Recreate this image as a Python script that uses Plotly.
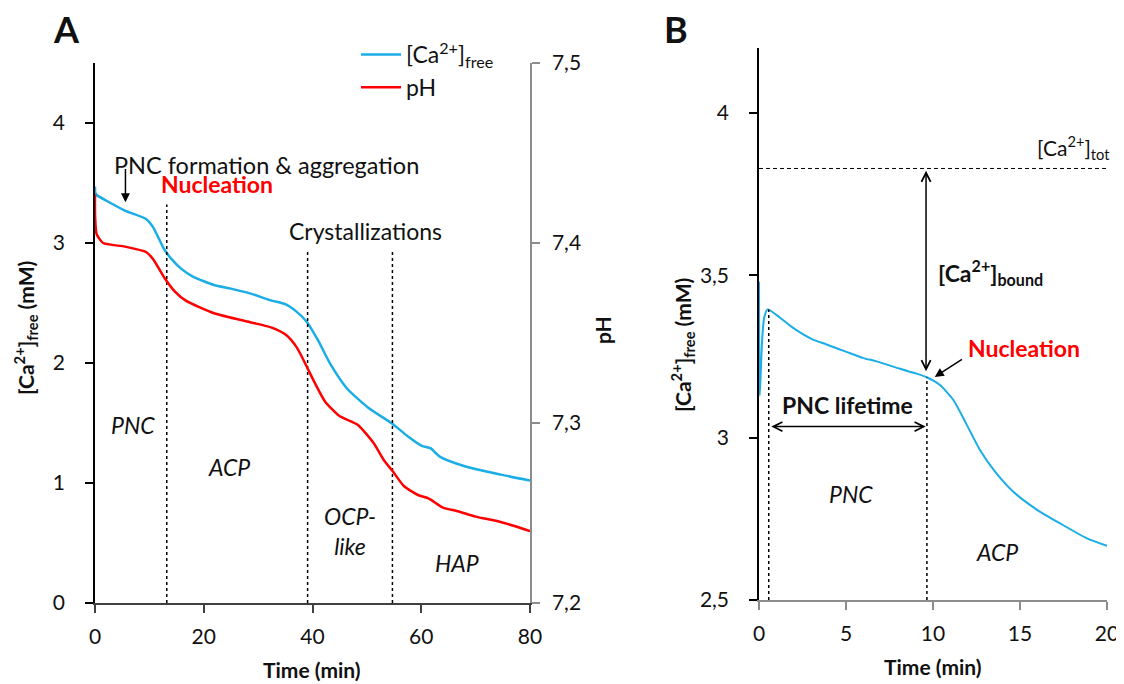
import plotly.graph_objects as go

# The page puts the figure 8 px from the window's top-left corner,
# so the figure is 8 px smaller than the 1124x684 window on each axis.
OFF = 8
W, H = 1124 - OFF, 684 - OFF
FONT = "Lato"

# ---------------- Panel A data ----------------
time_ca_A = [0, 0.05, 0.3, 2.2, 5.5, 9.4, 10.7, 12.7, 14.0, 16, 18, 21.9, 25, 28.5, 32.5,
             35, 37, 39.0, 41, 43.3, 46.3, 50.2, 54.8, 57.5, 60.1, 61.7, 63.4, 68, 74.6, 80]
ca_free_A = [3.47, 3.42, 3.40, 3.35, 3.27, 3.20, 3.13, 2.95, 2.87, 2.78, 2.72, 2.65, 2.62, 2.58, 2.52,
             2.49, 2.43, 2.34, 2.19, 1.99, 1.79, 1.63, 1.49, 1.39, 1.31, 1.29, 1.22, 1.14, 1.07, 1.02]

time_ph_A = [0, 0.02, 0.3, 1.5, 5.5, 9.4, 10.7, 12.7, 14.7, 16.7, 21.9, 28.5, 32.5, 35.1, 37.1,
             39.0, 40.3, 42.3, 44.9, 48.3, 51.2, 53.2, 54.8, 56.8, 59.4, 61.4, 64.0, 66.7, 70, 74.6, 80]
ph_A = [7.427, 7.415, 7.405, 7.400, 7.398, 7.395, 7.391, 7.381, 7.373, 7.368, 7.361, 7.356, 7.353, 7.349, 7.342,
        7.331, 7.323, 7.312, 7.304, 7.299, 7.289, 7.279, 7.273, 7.265, 7.260, 7.258, 7.253, 7.251, 7.248, 7.245, 7.240]

phase_lines_A = [13.2, 39.1, 54.7]      # min
phase_tops_A = [3.32, 2.94, 2.93]       # mM

# ---------------- Panel B data ----------------
time_B = [0, 0.04, 0.1, 0.18, 0.3, 0.5, 1.0, 1.96, 3.1, 3.88, 5.03, 6.0, 6.76, 8.1, 9.0, 9.64,
          10.4, 11.17, 11.9, 12.7, 13.5, 14.6, 16.0, 17.3, 18.85, 20]
ca_free_B = [3.48, 3.13, 3.20, 3.30, 3.37, 3.395, 3.378, 3.338, 3.302, 3.287, 3.264, 3.245, 3.235, 3.212, 3.198, 3.186,
             3.162, 3.116, 3.044, 2.962, 2.90, 2.834, 2.777, 2.736, 2.69, 2.667]
ca_tot_B = 3.829
phase_lines_B = [0.56, 9.65]
phase_tops_B = [3.395, 3.185]

BLUE = "#1AADE6"
RED = "#FF0000"


def px(x):
    return (x - OFF) / W


def py(y):
    return 1 - (y - OFF) / H


fig = go.Figure()

fig.add_trace(go.Scatter(x=time_ca_A, y=ca_free_A, mode="lines", name="[Ca<sup>2+</sup>]<sub>free</sub>",
                         line=dict(color=BLUE, width=2.5, shape="spline", smoothing=0.6), xaxis="x", yaxis="y"))
fig.add_trace(go.Scatter(x=time_ph_A, y=ph_A, mode="lines", name="pH",
                         line=dict(color=RED, width=2.5, shape="spline", smoothing=0.6), xaxis="x", yaxis="y2"))
for t, top in zip(phase_lines_A, phase_tops_A):
    fig.add_trace(go.Scatter(x=[t, t], y=[0, top], mode="lines", showlegend=False,
                             line=dict(color="black", width=1.5, dash="dot"), xaxis="x", yaxis="y"))

fig.add_trace(go.Scatter(x=time_B, y=ca_free_B, mode="lines", showlegend=False,
                         line=dict(color=BLUE, width=2, shape="spline", smoothing=0.6), xaxis="x2", yaxis="y3"))
for t, top in zip(phase_lines_B, phase_tops_B):
    fig.add_trace(go.Scatter(x=[t, t], y=[2.5, top], mode="lines", showlegend=False,
                             line=dict(color="black", width=1.5, dash="dot"), xaxis="x2", yaxis="y3"))
fig.add_trace(go.Scatter(x=[0, 20], y=[ca_tot_B, ca_tot_B], mode="lines", showlegend=False,
                         line=dict(color="black", width=1, dash="4px,3px"), xaxis="x2", yaxis="y3"))

tickfont = dict(family=FONT, size=21, color="#111")
common = dict(showgrid=False, zeroline=False, ticks="outside", ticklen=8, tickwidth=1.5,
              tickfont=tickfont, showline=True, linewidth=1.5, fixedrange=True, automargin=False,
              ticklabeloverflow="allow")

fig.update_layout(
    width=W, height=H, margin=dict(l=0, r=0, t=0, b=0, autoexpand=False),
    paper_bgcolor="white", plot_bgcolor="white",
    separators=", ",
    font=dict(family=FONT, size=20, color="#111"),
    xaxis=dict(domain=[px(95), px(530)], range=[0, 80], dtick=20, anchor="y",
               linecolor="#404040", tickcolor="#404040", ticklabelstandoff=6, **common),
    yaxis=dict(domain=[py(603), py(63)], range=[0, 4.5], tickvals=[0, 1, 2, 3, 4], anchor="x",
               linecolor="black", tickcolor="black", ticklabelstandoff=16, **common),
    yaxis2=dict(domain=[py(603), py(63)], range=[7.2, 7.5], tickvals=[7.2, 7.3, 7.4, 7.5], tickformat=".1f",
                overlaying="y", side="right", anchor="x",
                linecolor="#8c8c8c", tickcolor="#8c8c8c", ticklabelstandoff=8, **common),
    xaxis2=dict(domain=[px(759), px(1107)], range=[0, 20], dtick=5, anchor="y3",
                linecolor="#8c8c8c", tickcolor="#8c8c8c", ticklabelstandoff=6, **common),
    yaxis3=dict(domain=[py(600), py(48)], range=[2.5, 4.2], tickvals=[2.5, 3, 3.5, 4], anchor="x2",
                linecolor="black", tickcolor="black", ticklabelstandoff=16, **common),
    legend=dict(x=px(356), y=py(33), xanchor="left", yanchor="top", bgcolor="rgba(0,0,0,0)",
                font=dict(family=FONT, size=23, color="#111"), tracegroupgap=0, itemwidth=40),
    showlegend=True,
)

ann = []


def text(x, y, s, xref="x", yref="y", size=23, color="#111", bold=False, italic=False,
         xanchor="center", yanchor="middle", **kw):
    if bold:
        s = "<b>" + s + "</b>"
    if italic:
        s = "<i>" + s + "</i>"
    ann.append(dict(x=x, y=y, xref=xref, yref=yref, text=s, showarrow=False,
                    xanchor=xanchor, yanchor=yanchor,
                    font=dict(family=FONT, size=size, color=color), **kw))


def arrow(x0, y0, x1, y1, xref, yref, head=2, double=False, width=1.5):
    d = dict(x=x1, y=y1, ax=x0, ay=y0, xref=xref, yref=yref, axref=xref, ayref=yref,
             text="", showarrow=True, arrowhead=head, arrowsize=1.2, arrowwidth=width, arrowcolor="black")
    if double:
        d.update(arrowside="end+start", startarrowhead=head, startarrowsize=1.2)
    ann.append(d)


# Panel letters
text(px(66), py(29), "A", "paper", "paper", size=36, bold=True)
text(px(676), py(29), "B", "paper", "paper", size=36, bold=True)

# Axis titles
text(px(312), py(669), "Time (min)", "paper", "paper", size=21, bold=True)
text(px(933), py(666), "Time (min)", "paper", "paper", size=21, bold=True)
text(px(25), py(328), "[Ca<sup>2+</sup>]<sub>free</sub> (mM)", "paper", "paper", size=21, bold=True, textangle=-90)
text(px(602), py(330), "pH", "paper", "paper", size=21, bold=True, textangle=-90)
text(px(683), py(345), "[Ca<sup>2+</sup>]<sub>free</sub> (mM)", "paper", "paper", size=21, bold=True, textangle=-90)

# Panel A annotations
text(3.2, 3.65, "PNC formation &amp; aggregation", xanchor="left", size=23.5)
arrow(5.6, 3.63, 5.6, 3.34, "x", "y", head=2)
text(22.4, 3.49, "Nucleation", color=RED, bold=True)
text(49.7, 3.10, "Crystallizations")
text(6.9, 1.48, "PNC", italic=True)
text(24.6, 1.13, "ACP", italic=True)
text(46.9, 0.60, "OCP-<br>like", italic=True)
text(66.6, 0.33, "HAP", italic=True)

# Panel B annotations
text(px(1112), py(148), "[Ca<sup>2+</sup>]<sub>tot</sub>", "paper", "paper", size=21, xanchor="right")
arrow(9.6, 3.20, 9.6, 3.822, "x2", "y3", head=5, double=True)
text(10.2, 3.51, "[Ca<sup>2+</sup>]<sub>bound</sub>", "x2", "y3", bold=True, xanchor="left")
text(15.25, 3.275, "Nucleation", "x2", "y3", color=RED, bold=True)
arrow(11.75, 3.244, 10.1, 3.187, "x2", "y3", head=2)
text(5.07, 3.10, "PNC lifetime", "x2", "y3", bold=True)
arrow(0.62, 3.034, 9.58, 3.034, "x2", "y3", head=5, double=True)
text(5.3, 2.826, "PNC", "x2", "y3", italic=True)
text(13.7, 2.649, "ACP", "x2", "y3", italic=True)

fig.update_layout(annotations=ann)
fig.write_html("out.html")
